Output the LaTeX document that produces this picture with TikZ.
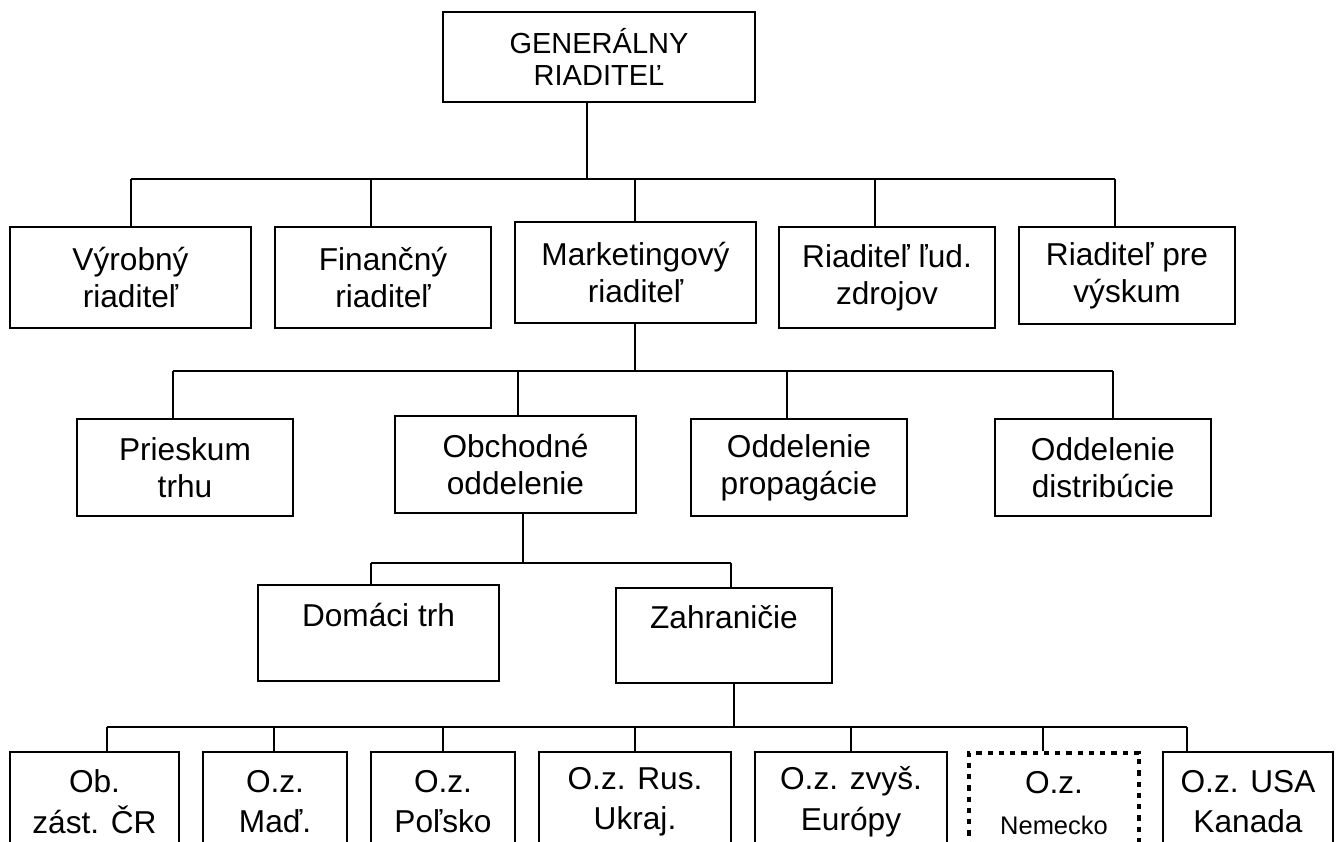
\documentclass[tikz,border=0pt]{standalone}
\usepackage{fontspec}
\setmainfont{Liberation Sans}
\tikzset{
  box/.style={draw,line width=1pt,align=center,inner sep=0pt,font=\fontsize{18}{21}\selectfont},
  lowbox/.style={box,anchor=north,minimum height=2cm,font=\fontsize{18}{23}\selectfont},
  dotbox/.style={lowbox,line width=2.3pt,dash pattern=on 3pt off 3.4pt},
  link/.style={line width=1pt},
}

\begin{document}
\begin{tikzpicture}
                \useasboundingbox (0,0) rectangle (26.78,-16.84);
                \clip (0,0) rectangle (26.78,-16.84);
                % vedenie
                \node[box,minimum width=6.24cm,minimum height=1.8cm,font=\fontsize{16.5}{18}\selectfont] (gen) at (11.98,-1.14) {GENERÁLNY\\RIADITEĽ};
                \node[box,minimum width=4.82cm,minimum height=2.02cm] (vyr) at (2.61,-5.55) {Výrobný\\riaditeľ};
                \node[box,minimum width=4.32cm,minimum height=2.02cm] (fin) at (7.66,-5.55) {Finančný\\riaditeľ};
                \node[box,minimum width=4.82cm,minimum height=2.02cm] (mkt) at (12.71,-5.45) {Marketingový\\riaditeľ};
                \node[box,minimum width=4.32cm,minimum height=2.02cm] (ludz) at (17.74,-5.55) {Riaditeľ ľud.\\zdrojov};
                \node[box,minimum width=4.32cm,minimum height=1.94cm] (vysk) at (22.54,-5.51) {Riaditeľ pre\\výskum};
                % marketing
                \node[box,minimum width=4.32cm,minimum height=1.94cm] (pries) at (3.70,-9.35) {Prieskum\\trhu};
                \node[box,minimum width=4.82cm,minimum height=1.94cm] (obch) at (10.31,-9.29) {Obchodné\\oddelenie};
                \node[box,minimum width=4.32cm,minimum height=1.94cm] (prop) at (15.98,-9.35) {Oddelenie\\propagácie};
                \node[box,minimum width=4.32cm,minimum height=1.94cm] (distr) at (22.06,-9.35) {Oddelenie\\distribúcie};
                % obchod
                \node[box,minimum width=4.82cm,minimum height=1.92cm] (dom) at (7.57,-12.66) {Domáci trh\\~};
                \node[box,minimum width=4.32cm,minimum height=1.90cm] (zahr) at (14.48,-12.71) {Zahraničie\\~};
                % zastupitelstva
                \node[lowbox,minimum width=3.38cm] (ob) at (1.89,-15.02) {Ob.\\zást. ČR};
                \node[lowbox,minimum width=2.88cm] (mad) at (5.50,-15.02) {O.z.\\Maď.};
                \node[lowbox,minimum width=2.88cm] (pol) at (8.86,-15.02) {O.z.\\Poľsko};
                \node[lowbox,minimum width=3.84cm] (rus) at (12.70,-15.02) {O.z. Rus.\\Ukraj.};
                \node[lowbox,minimum width=3.84cm] (zvys) at (17.02,-15.02) {O.z. zvyš.\\Európy};
                \node[dotbox,minimum width=3.40cm] (nem) at (21.08,-15.02) {O.z.\\{\fontsize{14.5}{17}\selectfont Nemecko}};
                \node[lowbox,minimum width=3.40cm] (usa) at (24.96,-15.02) {O.z. USA\\Kanada};
                % spojnice
                \coordinate (bar2) at (0,-3.58);
                \coordinate (bar3) at (0,-7.42);
                \coordinate (bar4) at (0,-11.26);
                \coordinate (bar5) at (0,-14.54);
                \coordinate (gen-b) at ([xshift=-0.24cm]gen.south);
                \coordinate (mkt-b) at ([xshift=-0.01cm]mkt.south);
                \coordinate (obch-b) at ([xshift=0.15cm]obch.south);
                \coordinate (zahr-b) at ([xshift=0.2cm]zahr.south);
                \draw[link] (gen-b) -- (gen-b |- bar2);
                \draw[link] (mkt-b) -- (mkt-b |- bar3);
                \draw[link] (obch-b) -- (obch-b |- bar4);
                \draw[link] (zahr-b) -- (zahr-b |- bar5);
                \foreach \n/\dx/\b in {vyr/0.01/bar2,fin/-0.24/bar2,mkt/-0.01/bar2,ludz/-0.24/bar2,vysk/-0.24/bar2,
                    pries/-0.24/bar3,obch/0.05/bar3,prop/-0.24/bar3,distr/0.2/bar3,
                    dom/-0.15/bar4,zahr/0.14/bar4,
                    ob/0.25/bar5,mad/-0.02/bar5,pol/0/bar5,rus/0/bar5,zvys/0/bar5,nem/-0.22/bar5,usa/-1.22/bar5}{
                    \coordinate (\n-t) at ([xshift=\dx cm]\n.north);
                    \draw[link] (\n-t) -- (\n-t |- \b);
                }
                \draw[link] (vyr-t |- bar2) -- (vysk-t |- bar2);
                \draw[link] (pries-t |- bar3) -- (distr-t |- bar3);
                \draw[link] (dom-t |- bar4) -- (zahr-t |- bar4);
                \draw[link] (ob-t |- bar5) -- (usa-t |- bar5);
\end{tikzpicture}
\end{document}
